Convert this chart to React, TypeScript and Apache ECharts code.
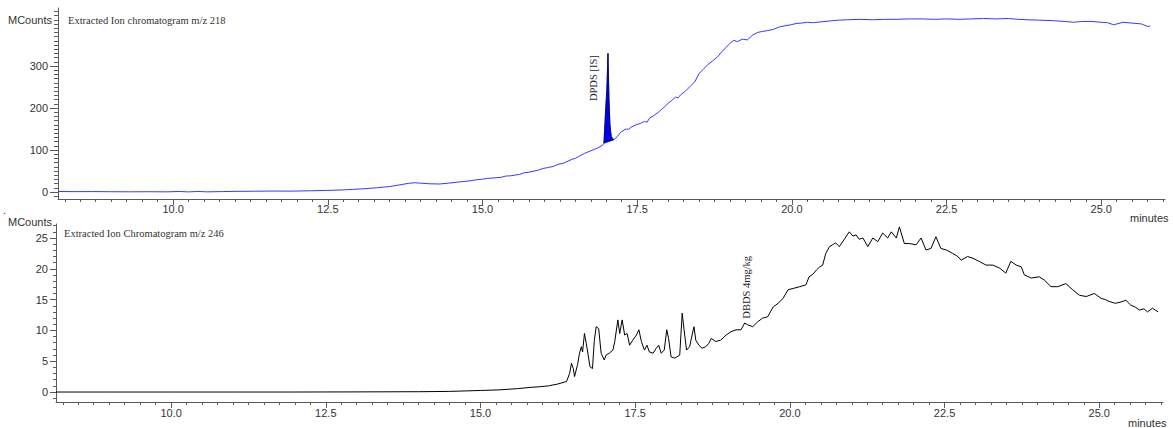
import React, { useEffect, useRef } from "react";
import * as echarts from "echarts";

// Retention-time window shared by both traces (minutes)
const X_MIN = 8.14;
const X_MAX = 26.03;

const xMajorTicks = [10, 12.5, 15, 17.5, 20, 22.5, 25];
const topYTicks = [0, 100, 200, 300];
const bottomYTicks = [0, 5, 10, 15, 20, 25];

// m/z 218 trace (MCounts) before the internal-standard peak
const topTimeA = [
  8.14, 8.4, 8.7, 9.0, 9.3, 9.6, 9.9, 10.1, 10.25, 10.4, 10.55, 10.8, 11.0, 11.3, 11.6, 11.9,
  12.2, 12.5, 12.7, 12.9, 13.1, 13.3, 13.5, 13.65, 13.8, 13.9, 14.0, 14.15, 14.3, 14.45, 14.6,
  14.8, 14.9, 15.0, 15.08, 15.15, 15.3, 15.38, 15.45, 15.6, 15.68, 15.75, 15.9, 15.98, 16.05,
  16.15, 16.22, 16.3, 16.45, 16.5, 16.55, 16.65, 16.7, 16.75, 16.85, 16.9, 16.93,
];
const topCountsA = [
  1.2, 0.8, 1.0, 0.6, 0.4, 0.6, 0.3, 1.2, 0.2, 1.3, 0.3, 1.0, 1.5, 1.8, 2.2, 2.0,
  2.8, 3.8, 4.6, 6.2, 7.8, 10.2, 13.0, 16.5, 20.5, 22.0, 21.0, 19.5, 19.0, 21.0, 23.5,
  26.5, 29.0, 30.5, 32.5, 33.0, 35.0, 38.0, 38.5, 42.0, 46.0, 47.0, 52.0, 56.0, 58.0,
  61.0, 66.0, 68.0, 78.0, 80.0, 84.0, 92.0, 95.0, 98.0, 104.0, 108.0, 110.0,
];

// DPDS [IS] peak
const peakTime = [16.963, 16.99, 17.01, 17.028, 17.045, 17.06, 17.08, 17.12];
const peakCounts = [116, 195, 243, 330, 219, 160, 132, 124];

// m/z 218 trace after the peak
const topTimeB = [
  17.18, 17.22, 17.25, 17.32, 17.36, 17.4, 17.48, 17.55, 17.62, 17.66, 17.7, 17.78, 17.86,
  17.9, 17.93, 18.0, 18.06, 18.12, 18.16, 18.2, 18.28, 18.36, 18.43, 18.5, 18.57, 18.64, 18.72,
  18.8, 18.87, 18.94, 19.0, 19.06, 19.12, 19.2, 19.28, 19.36, 19.45, 19.52, 19.6, 19.7, 19.8,
  19.9, 19.98, 20.07, 20.15, 20.25, 20.35, 20.47, 20.6, 20.75, 20.9, 21.1, 21.3, 21.5, 21.7,
  21.9, 22.1, 22.3, 22.5, 22.7, 22.9, 23.1, 23.3, 23.5, 23.65, 23.8, 24.0, 24.2, 24.4, 24.55,
  24.7, 24.85, 25.0, 25.1, 25.2, 25.35, 25.5, 25.65, 25.75, 25.79,
];
const topCountsB = [
  132, 140, 144, 150, 149, 154, 160, 163, 168, 166, 176, 183, 192,
  198, 201, 211, 218, 226, 224, 231, 240, 252, 262, 282, 292, 303, 312,
  322, 334, 345, 354, 361, 358, 364, 362, 373, 380, 382, 384, 387, 393,
  396, 398, 401, 402, 404, 403, 405, 407, 409, 410, 411, 410, 411, 411,
  412, 412, 411, 412, 411, 412, 413, 412, 413, 411, 410, 409, 408, 406, 404,
  406, 406, 404, 403, 398, 404, 402, 400, 394, 395,
];

// m/z 246 trace (MCounts)
const bottomTime = [
  8.14, 9.0, 10.0, 11.0, 12.0, 13.0, 14.0, 14.5, 15.0, 15.3, 15.6, 15.8, 15.96, 16.1, 16.25,
  16.39, 16.44, 16.47, 16.5, 16.52, 16.57, 16.6, 16.63, 16.65, 16.68, 16.71, 16.77, 16.81,
  16.84, 16.87, 16.91, 16.95, 17.0, 17.03, 17.08, 17.14, 17.17, 17.22, 17.25, 17.29, 17.33,
  17.37, 17.41, 17.46, 17.52, 17.56, 17.6, 17.65, 17.69, 17.73, 17.79, 17.84, 17.88, 17.92,
  17.97, 18.01, 18.04, 18.08, 18.14, 18.22, 18.26, 18.29, 18.33, 18.38, 18.42, 18.45, 18.48,
  18.53, 18.58, 18.64, 18.69, 18.73, 18.8, 18.88, 18.97, 19.05, 19.13, 19.21, 19.27, 19.32,
  19.4, 19.48, 19.56, 19.64, 19.73, 19.81, 19.89, 19.97, 20.05, 20.16, 20.26, 20.31, 20.37,
  20.43, 20.48, 20.53, 20.58, 20.61, 20.64, 20.69, 20.74, 20.8, 20.88, 20.96, 21.02, 21.07,
  21.12, 21.18, 21.26, 21.34, 21.42, 21.5, 21.58, 21.64, 21.72, 21.77, 21.85, 21.93, 22.04,
  22.12, 22.2, 22.28, 22.36, 22.44, 22.53, 22.63, 22.7, 22.77, 22.87, 22.96, 23.06, 23.17,
  23.28, 23.39, 23.49, 23.57, 23.66, 23.74, 23.79, 23.9, 24.03, 24.11, 24.22, 24.33, 24.46,
  24.57, 24.68, 24.79, 24.92, 25.03, 25.1, 25.16, 25.26, 25.35, 25.43, 25.51, 25.58, 25.65,
  25.72, 25.78, 25.86, 25.95,
];
const bottomCounts = [
  0, 0, 0, 0, 0, 0.02, 0.05, 0.1, 0.25, 0.35, 0.55, 0.75, 0.86, 1.0, 1.3,
  1.7, 3.0, 4.65, 3.8, 2.5, 4.5, 6.3, 7.35, 6.5, 9.5, 7.9, 4.1, 3.8,
  8.4, 10.6, 10.3, 6.3, 5.2, 6.0, 6.3, 6.8, 8.2, 11.7, 9.5, 11.7, 9.25,
  9.5, 7.6, 8.4, 9.25, 10.1, 8.2, 6.8, 7.6, 6.5, 6.3, 7.1, 7.6, 6.3,
  6.8, 10.1, 8.7, 5.7, 5.5, 6.0, 12.8, 10.1, 6.8, 7.35, 9.25, 10.6, 8.4,
  7.6, 7.1, 7.35, 7.9, 8.7, 8.2, 8.4, 9.25, 9.8, 10.1, 10.1, 11.2, 10.9,
  10.6, 11.4, 12.0, 12.2, 13.8, 14.4, 15.2, 16.6, 16.8, 17.1, 17.4, 18.7, 19.1,
  19.8, 20.3, 20.6, 22.5, 23.05, 23.6, 23.9, 24.2, 23.6, 24.8, 26.0, 25.3, 25.5,
  24.8, 25.0, 23.6, 25.0, 24.4, 25.8, 25.0, 26.0, 25.0, 26.8, 24.1, 24.1, 23.9,
  25.0, 23.05, 23.3, 25.2, 23.3, 23.05, 22.5, 22.1, 21.4, 22.0, 21.7, 21.2, 20.6,
  20.6, 20.1, 19.3, 21.2, 20.6, 20.3, 19.0, 18.5, 18.7, 18.2, 17.1, 17.1, 17.6,
  16.6, 15.7, 15.5, 16.0, 15.2, 15.0, 14.7, 14.4, 14.6, 14.9, 14.1, 13.8, 13.3,
  13.5, 13.0, 13.6, 13.0,
];

// Tick positions along an axis
function steps(from: number, to: number, step: number): number[] {
  const out: number[] = [];
  for (let v = from; v <= to + 1e-9; v += step) out.push(+v.toFixed(4));
  return out;
}

const xMinorTicks = steps(8.25, 26.0, 0.25);
const topYMinorTicks = steps(-10, 430, 10);
const bottomYMinorTicks = steps(-1, 27, 1);

const AXIS_COLOR = "#5a5a5a";
const LABEL_COLOR = "#333";
const SANS = "'Liberation Sans', Arial, sans-serif";
const SERIF = "'Liberation Serif', 'Times New Roman', serif";

function xAxes(gridIndex: number, margin: number) {
  const base = { type: "value", gridIndex, min: X_MIN, max: X_MAX, position: "bottom", splitLine: { show: false } };
  return [
    {
      ...base,
      axisLine: { show: true, onZero: false, lineStyle: { color: AXIS_COLOR, width: 1 } },
      axisTick: { show: true, customValues: xMajorTicks, length: 6, lineStyle: { color: AXIS_COLOR } },
      axisLabel: {
        show: true,
        customValues: xMajorTicks,
        formatter: (v: number) => v.toFixed(1),
        margin,
        color: LABEL_COLOR,
        fontSize: 11,
        fontFamily: SANS,
      },
    },
    {
      ...base,
      axisLine: { show: false, onZero: false },
      axisTick: { show: true, customValues: xMinorTicks, length: 3, lineStyle: { color: AXIS_COLOR } },
      axisLabel: { show: false },
    },
  ];
}

function yAxes(gridIndex: number, min: number, max: number, major: number[], minor: number[], majorLen: number, margin: number) {
  const base = { type: "value", gridIndex, min, max, position: "left", splitLine: { show: false } };
  return [
    {
      ...base,
      axisLine: { show: true, onZero: false, lineStyle: { color: AXIS_COLOR, width: 1 } },
      axisTick: { show: true, customValues: major, length: majorLen, lineStyle: { color: AXIS_COLOR } },
      axisLabel: {
        show: true,
        customValues: major,
        formatter: (v: number) => String(Math.round(v)),
        margin,
        color: LABEL_COLOR,
        fontSize: 11,
        fontFamily: SANS,
      },
    },
    {
      ...base,
      axisLine: { show: false, onZero: false },
      axisTick: { show: true, customValues: minor, length: Math.round(majorLen / 2), lineStyle: { color: AXIS_COLOR } },
      axisLabel: { show: false },
    },
  ];
}

function text(str: string, x: number, y: number, family: string, size: number, align = "left") {
  return {
    type: "text",
    x,
    y,
    silent: true,
    style: { text: str, fill: LABEL_COLOR, fontFamily: family, fontSize: size, textAlign: align, textVerticalAlign: "middle" },
  };
}

export default function App() {
  const ref = useRef<HTMLDivElement>(null);

  useEffect(() => {
    if (!ref.current) return;
    const chart = echarts.init(ref.current, undefined, { renderer: "svg" });

    const topTime = [...topTimeA, ...peakTime, ...topTimeB];
    const topCounts = [...topCountsA, ...peakCounts, ...topCountsB];

    chart.setOption({
      animation: false,
      backgroundColor: "#ffffff",
      grid: [
        { left: 58, top: 8, width: 1107, height: 191, containLabel: false },
        { left: 56, top: 224, width: 1107, height: 178, containLabel: false },
      ],
      xAxis: [...xAxes(0, 4), ...xAxes(1, 5)],
      yAxis: [
        ...yAxes(0, -16.7, 438, topYTicks, topYMinorTicks, 8, 10),
        ...yAxes(1, -1.62, 27.27, bottomYTicks, bottomYMinorTicks, 6, 8),
      ],
      graphic: [
        text("MCounts", 52, 20, SANS, 11, "right"),
        text("Extracted Ion chromatogram m/z 218", 68, 20, SERIF, 10.5),
        text("minutes", 1130, 218, SANS, 11),
        text(".", 3, 210, SANS, 11),
        text("MCounts", 52, 222, SANS, 11, "right"),
        text("Extracted Ion Chromatogram m/z 246", 64, 233, SERIF, 10.5),
        text("minutes", 1128, 423, SANS, 11),
      ],
      series: [
        {
          type: "line",
          xAxisIndex: 0,
          yAxisIndex: 0,
          data: topTime.map((t, i) => [t, topCounts[i]]),
          showSymbol: false,
          silent: true,
          lineStyle: { color: "#3838ff", width: 1 },
          markPoint: {
            silent: true,
            symbol: "circle",
            symbolSize: 1,
            itemStyle: { color: "rgba(0,0,0,0)" },
            label: {
              show: true,
              position: "inside",
              rotate: 90,
              formatter: "DPDS [IS]",
              color: "#1e1e2e",
              fontFamily: SERIF,
              fontSize: 10.5,
            },
            data: [{ coord: [16.8, 271] }],
          },
        },
        {
          type: "custom",
          xAxisIndex: 0,
          yAxisIndex: 0,
          silent: true,
          data: [[peakTime[3], peakCounts[3]]],
          renderItem: (_params: any, api: any) => ({
            type: "polygon",
            shape: { points: peakTime.map((t, i) => api.coord([t, peakCounts[i]])) },
            style: { fill: "#0000f0", stroke: "#000000", lineWidth: 0.6 },
          }),
          z: 5,
        },
        {
          type: "line",
          xAxisIndex: 2,
          yAxisIndex: 2,
          data: bottomTime.map((t, i) => [t, bottomCounts[i]]),
          showSymbol: false,
          silent: true,
          lineStyle: { color: "#000000", width: 1 },
          markPoint: {
            silent: true,
            symbol: "circle",
            symbolSize: 1,
            itemStyle: { color: "rgba(0,0,0,0)" },
            label: {
              show: true,
              position: "inside",
              rotate: 90,
              formatter: "DBDS 4mg/kg",
              color: "#1e1e2e",
              fontFamily: SERIF,
              fontSize: 10.5,
            },
            data: [{ coord: [19.3, 17.0] }],
          },
        },
      ],
    });

    return () => chart.dispose();
  }, []);

  return (
    <div
      ref={ref}
      style={{ position: "fixed", left: 0, top: 0, width: 1173, height: 428, background: "#fff" }}
    />
  );
}
